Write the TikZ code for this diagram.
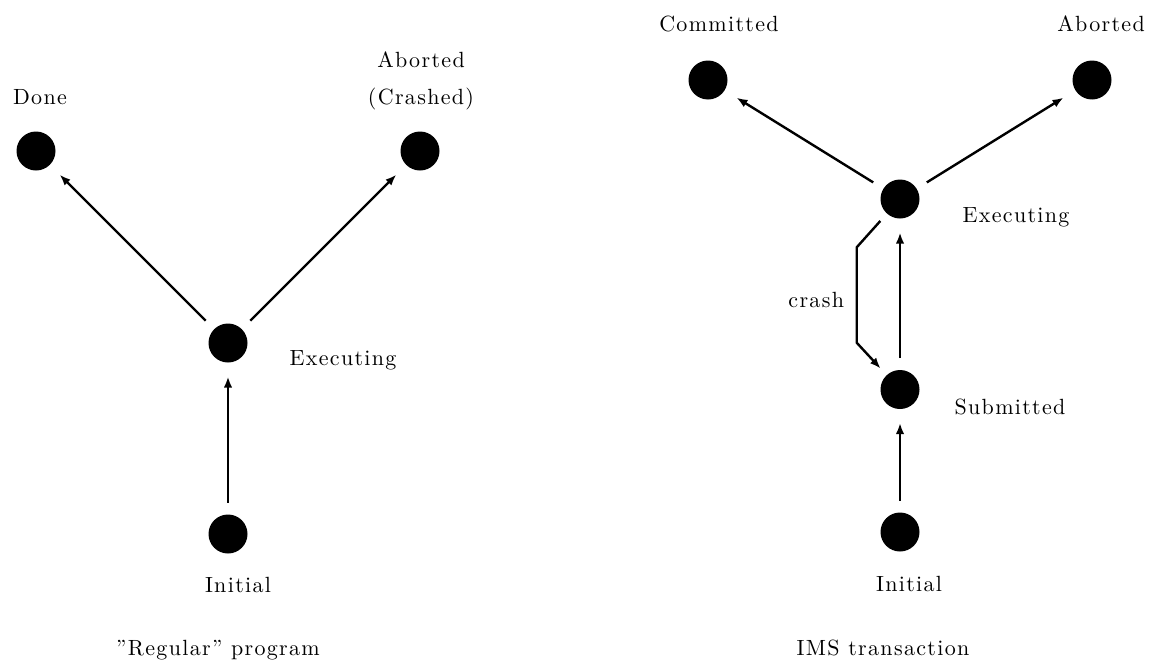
\documentclass[tikz,border=0pt]{standalone}
\usepackage{fontspec}
\setmainfont{lmroman10-regular.otf}[LetterSpace=6]
\usetikzlibrary{arrows.meta}
\tikzset{
  state/.style={circle,fill=black,draw=none,minimum size=19.5pt,inner sep=0pt,outer sep=0pt},
  lbl/.style={inner sep=0pt,font=\fontsize{11}{13}\selectfont},
  arr/.style={line width=1.2pt,-{Latex[length=5.5pt,width=4.2pt]},shorten <=6pt,shorten >=7pt},
}
\begin{document}
\begin{tikzpicture}[x=0.5pt,y=-0.5pt]
\useasboundingbox (0,0) rectangle (1159,669);
% left diagram
\node[state] (done) at (36,151) {};
\node[state] (abl) at (420,151) {};
\node[state] (exl) at (228,343) {};
\node[state] (inl) at (228,534) {};
\node[lbl,anchor=base] (tdone) at (40,104) {Done};
\node[lbl,anchor=base] (tabl1) at (421,67) {Aborted};
\node[lbl,anchor=base] (tabl2) at (421,104) {(Crashed)};
\node[lbl,anchor=base] (texl) at (343,365) {Executing};
\node[lbl,anchor=base] (tinl) at (238,592) {Initial};
\node[lbl,anchor=base] (capl) at (218,655) {\textquotedblright Regular\textquotedblright\ program};
\draw[arr] (inl) -- (exl);
\draw[arr] (exl) -- (done);
\draw[arr] (exl) -- (abl);
% right diagram
\node[state] (com) at (708,80) {};
\node[state] (abr) at (1092,80) {};
\node[state] (exr) at (900,199) {};
\node[state] (sub) at (900,389.5) {};
\node[state] (inr) at (900,532) {};
\node[lbl,anchor=base east] (tcom) at (779,32) {Committed};
\node[lbl,anchor=base] (tabr) at (1101,32) {Aborted};
\node[lbl,anchor=base] (texr) at (1016,222) {Executing};
\node[lbl,anchor=base] (tsub) at (1010,414) {Submitted};
\node[lbl,anchor=base] (tinr) at (909,591) {Initial};
\node[lbl,anchor=base west] (tcrash) at (788,307) {crash};
\node[lbl,anchor=base] (capr) at (883,655) {IMS transaction};
\coordinate (c1) at (856.7,247.3);
\coordinate (c2) at (856.7,342.7);
\draw[arr] (inr) -- (sub);
\draw[arr] (sub) -- (exr);
\draw[arr] (exr) -- (com);
\draw[arr] (exr) -- (abr);
\draw[line width=1.2pt,-{Latex[length=5.5pt,width=4.2pt]},shorten <=5pt,shorten >=4.5pt,line join=miter] (exr) -- (c1) -- (c2) -- (sub);
\end{tikzpicture}
\end{document}
